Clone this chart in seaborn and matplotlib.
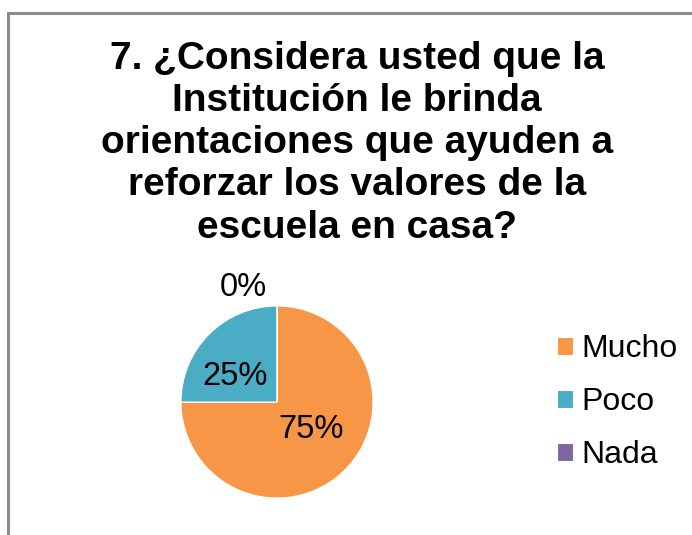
import matplotlib
matplotlib.use("Agg")
import matplotlib.pyplot as plt
import seaborn as sns
from matplotlib.patches import Rectangle

categories = ["Mucho", "Poco", "Nada"]
values = [75, 25, 0]
colors = ["#F79646", "#4BACC6", "#8064A2"]
title = "7. ¿Considera usted que la\nInstitución le brinda\norientaciones que ayuden a\nreforzar los valores de la\nescuela en casa?"

sns.set_theme(style="white")
plt.rcParams["font.family"] = ["Liberation Sans", "DejaVu Sans"]

fig = plt.figure(figsize=(6.92, 5.35), dpi=100)
W, H = 692, 535

# gray frame (left and top visible)
fig.add_artist(Rectangle((8 / W, -0.1), 1.2, 1.1 - 13 / H, transform=fig.transFigure,
                         fill=False, edgecolor="#8c8c8c", linewidth=2.2))

fig.text(357 / W, 1 - 41 / H, title, ha="center", va="top", fontsize=28,
         fontweight="bold", linespacing=1.22, color="black")

r = 96
ax = fig.add_axes([(277 - r) / W, 1 - (402 + r) / H, 2 * r / W, 2 * r / H])
wedges, texts, autotexts = ax.pie(values, colors=colors, startangle=90, counterclock=False,
                                  autopct="%1.0f%%", pctdistance=0.5, radius=1,
                                  wedgeprops=dict(linewidth=0.8, edgecolor="white"),
                                  textprops=dict(fontsize=23.5, color="black"))
ax.set_xlim(-1, 1)
ax.set_ylim(-1, 1)
ax.set_aspect("equal")
# label placement like the original
autotexts[0].set_position((0.36, -0.29))
autotexts[1].set_position((-0.44, 0.27))
autotexts[2].set_position((-0.35, 1.19))

leg = fig.legend(wedges, categories, loc="center left", bbox_to_anchor=(557 / W, 1 - 402 / H),
                 frameon=False, fontsize=23, handlelength=0.5, handleheight=0.5,
                 handletextpad=0.25, labelspacing=0.72, borderpad=0, borderaxespad=0,
                 labelcolor="black")

fig.savefig("out.png", dpi=100, facecolor="white")
